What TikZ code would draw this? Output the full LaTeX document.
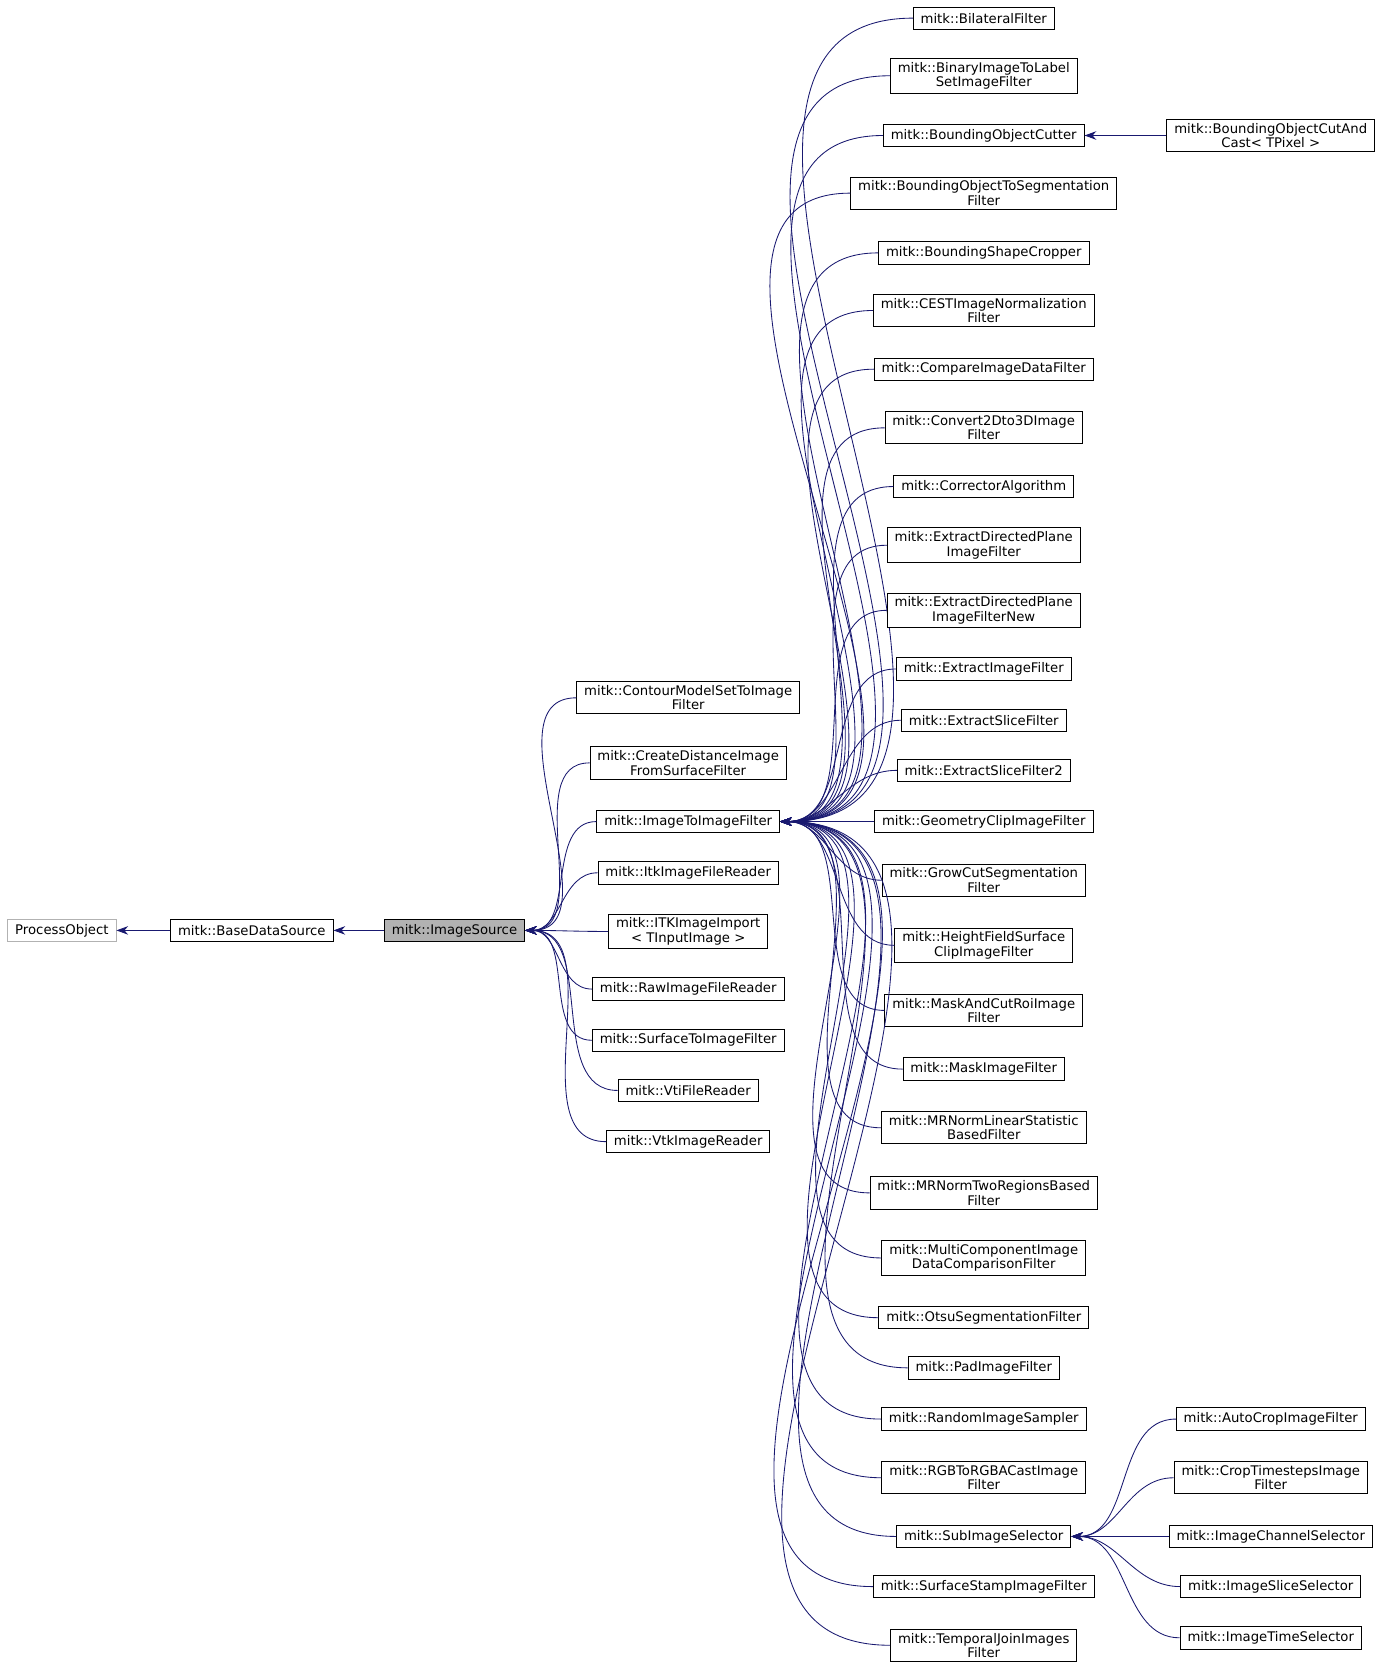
\documentclass[tikz,border=0pt]{standalone}
\usepackage{fontspec}
\setmainfont{DejaVu Sans}
\usetikzlibrary{arrows.meta}
\definecolor{edgeblue}{HTML}{191970}
\tikzset{
  cls/.style={draw=black, line width=0.8pt, fill=white, font=\fontsize{12.4}{13.5}\selectfont, align=center, inner xsep=7pt, inner ysep=3.5pt, minimum height=21pt},
  extcls/.style={cls, draw=gray!60},
  curcls/.style={cls, fill=gray!60},
  inh/.style={draw=edgeblue, line width=0.8pt, {Stealth[length=11pt,width=8pt]}-},
}
\begin{document}
\begin{tikzpicture}[x=1pt, y=-1pt]
\useasboundingbox (0,0) rectangle (1296,1568);
% base classes
\node[extcls] (po) at (58,872) {ProcessObject};
\node[cls] (bds) at (236,872) {mitk::BaseDataSource};
\node[curcls] (isrc) at (426,872) {mitk::ImageSource};
\draw[inh] (po.east) -- (bds.west);
\draw[inh] (bds.east) -- (isrc.west);

% direct children of the image source
\foreach \n/\y/\t in {
  cms/654/{mitk::ContourModelSetToImage\\Filter},
  cdi/715/{mitk::CreateDistanceImage\\FromSurfaceFilter},
  iti/770/{mitk::ImageToImageFilter},
  ifr/818/{mitk::ItkImageFileReader},
  iii/873/{mitk::ITKImageImport\\< TInputImage >},
  rfr/927/{mitk::RawImageFileReader},
  sti/975/{mitk::SurfaceToImageFilter},
  vti/1022/{mitk::VtiFileReader},
  vtk/1070/{mitk::VtkImageReader}}{
  \node[cls] (\n) at (645,\y) {\t};
  \draw[inh] (isrc.east) to[out=0,in=180] (\n.west);
}

% filters derived from the image-to-image filter
\foreach \n/\y/\t in {
  bil/17/{mitk::BilateralFilter},
  bil2/71/{mitk::BinaryImageToLabel\\SetImageFilter},
  boc/127/{mitk::BoundingObjectCutter},
  bos/181/{mitk::BoundingObjectToSegmentation\\Filter},
  bsc/237/{mitk::BoundingShapeCropper},
  cest/291/{mitk::CESTImageNormalization\\Filter},
  cmp/346/{mitk::CompareImageDataFilter},
  c23/401/{mitk::Convert2Dto3DImage\\Filter},
  cor/456/{mitk::CorrectorAlgorithm},
  edp/511/{mitk::ExtractDirectedPlane\\ImageFilter},
  edpn/572/{mitk::ExtractDirectedPlane\\ImageFilterNew},
  eif/627/{mitk::ExtractImageFilter},
  esf/675/{mitk::ExtractSliceFilter},
  esf2/722/{mitk::ExtractSliceFilter2},
  gcf/770/{mitk::GeometryClipImageFilter},
  gcs/825/{mitk::GrowCutSegmentation\\Filter},
  hfs/886/{mitk::HeightFieldSurface\\ClipImageFilter},
  mac/947/{mitk::MaskAndCutRoiImage\\Filter},
  mif/1002/{mitk::MaskImageFilter},
  mrl/1057/{mitk::MRNormLinearStatistic\\BasedFilter},
  mrt/1118/{mitk::MRNormTwoRegionsBased\\Filter},
  mci/1179/{mitk::MultiComponentImage\\DataComparisonFilter},
  ots/1235/{mitk::OtsuSegmentationFilter},
  pad/1282/{mitk::PadImageFilter},
  ris/1330/{mitk::RandomImageSampler},
  rgb/1385/{mitk::RGBToRGBACastImage\\Filter},
  sub/1440/{mitk::SubImageSelector},
  ssf/1487/{mitk::SurfaceStampImageFilter},
  tji/1542/{mitk::TemporalJoinImages\\Filter}}{
  \node[cls] (\n) at (922,\y) {\t};
  \draw[inh] (iti.east) to[out=0,in=180] (\n.west);
}

% further subclasses
\node[cls] (boca) at (1191,127) {mitk::BoundingObjectCutAnd\\Cast< TPixel >};
\draw[inh] (boc.east) -- (boca.west);
\foreach \n/\y/\t in {
  acf/1330/{mitk::AutoCropImageFilter},
  cts/1385/{mitk::CropTimestepsImage\\Filter},
  ics/1440/{mitk::ImageChannelSelector},
  iss/1487/{mitk::ImageSliceSelector},
  its/1535/{mitk::ImageTimeSelector}}{
  \node[cls] (\n) at (1191,\y) {\t};
  \draw[inh] (sub.east) to[out=0,in=180] (\n.west);
}
\end{tikzpicture}
\end{document}
